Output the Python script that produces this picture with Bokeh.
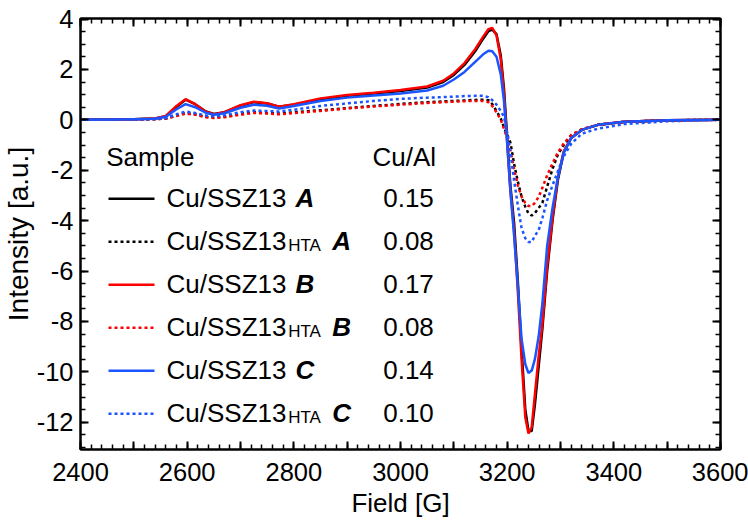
from bokeh.plotting import figure
from bokeh.models import Range1d, LinearAxis, FixedTicker, CustomJSTickFormatter, Title
from bokeh.core.properties import value
from bokeh.embed import file_html
from bokeh.resources import INLINE

# ---------------- data ----------------
field = [2400, 2500, 2540, 2560, 2580, 2597, 2615, 2635, 2650, 2670,
         2700, 2725, 2750, 2772, 2800, 2850, 2900, 2950, 3000, 3050,
         3080, 3100, 3120, 3140, 3155, 3165, 3172, 3180, 3188, 3194,
         3200, 3206, 3213, 3220, 3227, 3234, 3240, 3246, 3252, 3259,
         3266, 3275, 3285, 3295, 3306, 3320, 3340, 3370, 3420, 3500, 3600]

ssz13_A = [0, 0.02, 0.05, 0.14, 0.52, 0.8, 0.62, 0.33, 0.23, 0.3,
           0.56, 0.7, 0.65, 0.52, 0.6, 0.82, 0.95, 1.04, 1.14, 1.28,
           1.5, 1.78, 2.18, 2.72, 3.22, 3.52, 3.58, 3.4, 2.55, 1.25,
           -0.7, -2.6, -4.1, -6.4, -9.1, -11.5, -12.35, -12.35, -11.3, -9.8,
           -8.3, -6.0, -4.0, -2.4, -1.3, -0.72, -0.4, -0.2, -0.08, -0.02, 0]

ssz13_hta_A = [0, 0.01, 0.02, 0.05, 0.17, 0.27, 0.22, 0.12, 0.1, 0.13,
               0.24, 0.3, 0.27, 0.25, 0.3, 0.38, 0.46, 0.55, 0.63, 0.7,
               0.73, 0.75, 0.77, 0.79, 0.8, 0.78, 0.62, 0.35, 0.05, -0.3,
               -0.6, -0.9, -1.75, -2.45, -3.05, -3.45, -3.72, -3.8, -3.7, -3.5,
               -3.3, -2.65, -1.95, -1.38, -1.0, -0.65, -0.38, -0.2, -0.08, -0.02, 0]

ssz13_B = [0, 0.02, 0.05, 0.15, 0.55, 0.82, 0.62, 0.32, 0.22, 0.3,
           0.58, 0.72, 0.66, 0.52, 0.62, 0.85, 0.98, 1.07, 1.18, 1.32,
           1.55, 1.84, 2.25, 2.8, 3.3, 3.6, 3.65, 3.35, 2.4, 1.05,
           -0.9, -2.8, -4.4, -6.8, -9.5, -11.8, -12.45, -12.2, -10.9, -9.4,
           -8.1, -5.8, -3.9, -2.3, -1.25, -0.72, -0.4, -0.2, -0.08, -0.02, 0]

ssz13_hta_B = [0, 0.01, 0.02, 0.05, 0.15, 0.25, 0.2, 0.1, 0.07, 0.1,
               0.2, 0.27, 0.25, 0.22, 0.27, 0.35, 0.45, 0.53, 0.6, 0.67,
               0.7, 0.72, 0.74, 0.75, 0.75, 0.7, 0.55, 0.3, 0.0, -0.35,
               -0.75, -1.2, -1.95, -2.6, -3.05, -3.3, -3.42, -3.42, -3.3, -3.06,
               -2.7, -2.2, -1.73, -1.3, -0.94, -0.6, -0.37, -0.2, -0.08, -0.02, 0]

ssz13_C = [0, 0.02, 0.04, 0.12, 0.42, 0.62, 0.5, 0.28, 0.2, 0.26,
           0.48, 0.6, 0.56, 0.45, 0.55, 0.75, 0.88, 0.96, 1.04, 1.16,
           1.35, 1.6, 1.9, 2.3, 2.6, 2.74, 2.72, 2.5, 1.8, 0.75,
           -0.9, -2.8, -4.6, -6.6, -8.7, -9.7, -10.05, -9.95, -9.5, -8.6,
           -7.3, -5.0, -3.5, -2.3, -1.3, -0.72, -0.4, -0.2, -0.08, -0.02, 0]

ssz13_hta_C = [0, 0.01, 0.03, 0.07, 0.22, 0.33, 0.27, 0.17, 0.14, 0.18,
               0.3, 0.37, 0.35, 0.33, 0.4, 0.55, 0.65, 0.75, 0.83, 0.88,
               0.9, 0.92, 0.94, 0.95, 0.95, 0.9, 0.78, 0.6, 0.35, 0.12,
               -0.5, -1.3, -2.4, -3.4, -4.3, -4.7, -4.85, -4.85, -4.6, -4.38,
               -3.9, -3.2, -2.6, -2.05, -1.45, -0.95, -0.55, -0.35, -0.17, -0.06, 0]

series = [ssz13_A, ssz13_hta_A, ssz13_B, ssz13_hta_B, ssz13_C, ssz13_hta_C]
sample_names = ["Cu/SSZ13", "Cu/SSZ13", "Cu/SSZ13", "Cu/SSZ13", "Cu/SSZ13", "Cu/SSZ13"]
is_hta = [False, True, False, True, False, True]
letters = ["A", "A", "B", "B", "C", "C"]
cu_al = ["0.15", "0.08", "0.17", "0.08", "0.14", "0.10"]
colors = ["black", "black", "#ff0000", "#ff0000", "#1a55ff", "#1a55ff"]
dashes = ["solid", "3 3", "solid", "3 3", "solid", "3 3"]

x_major = list(range(2400, 3601, 100))
x_minor = list(range(2400, 3601, 20))
y_major = list(range(-12, 5, 2))
y_minor = [v / 2 for v in range(-26, 9)]

# ---------------- layout ----------------
FONT = "Liberation Sans"
W, H = 748, 522
ML, MR, MT = 80, 28, 18
FW = W - ML - MR          # 640
FH = 431
MB = H - MT - FH
X0, X1 = 2400, 3600
Y1 = 4.02
Y0 = Y1 - FH / 25.2
TEXT_DY = -10             # baseline correction for text glyphs

def fx(px):  # page pixel -> data x
    return X0 + (px - ML) / FW * (X1 - X0)

def fy(py):  # page pixel -> data y
    return Y1 - (py - MT) / FH * (Y1 - Y0)

p = figure(width=W, height=H, x_range=Range1d(X0, X1), y_range=Range1d(Y0, Y1),
           output_backend="svg", toolbar_location=None,
           min_border_left=ML, min_border_right=MR, min_border_top=MT, min_border_bottom=MB,
           x_axis_label="Field [G]")
p.xgrid.visible = False
p.ygrid.visible = False
p.outline_line_color = "black"
p.outline_line_width = 2
p.background_fill_color = "white"
p.border_fill_color = "white"

fmt_x = CustomJSTickFormatter(code="return (tick % 200 == 0) ? tick.toFixed(0) : '';")
fmt_y = CustomJSTickFormatter(code="return tick.toFixed(0);")

def style_axis(ax, show_labels):
    ax.axis_line_width = 2
    ax.axis_line_color = "black"
    ax.major_tick_line_width = 2
    ax.minor_tick_line_width = 1.5
    ax.major_tick_in = 8
    ax.major_tick_out = 0
    ax.minor_tick_in = 5
    ax.minor_tick_out = 0
    ax.major_label_text_font = FONT
    ax.axis_label_text_font = FONT
    ax.axis_label_text_font_style = "normal"
    ax.axis_label_text_font_size = "26px"
    ax.axis_label_text_color = "black"
    if show_labels:
        ax.major_label_text_font_size = "25.5px"
        ax.major_label_text_color = "black"
    else:
        ax.major_label_text_font_size = "0px"
        ax.major_label_text_color = None
        ax.major_label_standoff = 0

xt = FixedTicker(ticks=x_major, minor_ticks=x_minor)
yt = FixedTicker(ticks=y_major, minor_ticks=y_minor)

p.xaxis.ticker = xt
p.xaxis.formatter = fmt_x
p.yaxis.ticker = yt
p.yaxis.formatter = fmt_y
for ax in p.xaxis:
    style_axis(ax, True)
    ax.major_label_standoff = 13
    ax.axis_label_standoff = 4
for ax in p.yaxis:
    style_axis(ax, True)
    ax.major_label_standoff = 7

top = LinearAxis(ticker=xt, formatter=fmt_x)
style_axis(top, False)
p.add_layout(top, "above")
right = LinearAxis(ticker=yt, formatter=fmt_y)
style_axis(right, False)
p.add_layout(right, "right")

# y axis title: a side title, shifted up like the original
ytitle = Title(text="Intensity [a.u.]", align="center", offset=42, standoff=0,
               text_font=FONT, text_font_size="28px", text_font_style="normal",
               text_color="black")
p.add_layout(ytitle, "left")

# ---------------- curves ----------------
for vals, col, dash in zip(series, colors, dashes):
    p.line(field, vals, line_color=col, line_width=2.5, line_dash=dash, line_cap="butt")

# ---------------- legend (table) ----------------
tf = value(FONT)
hy = 166.7 + TEXT_DY
p.text(x=[fx(105.7), fx(372)], y=[fy(hy)] * 2, text=["Sample", "Cu/Al"],
       text_font=tf, text_font_size="26px", text_baseline="alphabetic", text_color="black")

row0, drow = 198.3, 43.0
for i in range(len(series)):
    ly = row0 + i * drow
    base = ly + 9 + TEXT_DY
    p.line([fx(108), fx(154)], [fy(ly), fy(ly)], line_color=colors[i], line_width=2.5,
           line_dash=dashes[i], line_cap="butt")
    p.text(x=[fx(166)], y=[fy(base)], text=[sample_names[i]], text_font=tf,
           text_font_size="26px", text_baseline="alphabetic", text_color="black")
    if is_hta[i]:
        p.text(x=[fx(287.7)], y=[fy(base + 5)], text=["HTA"], text_font=tf,
               text_font_size="17px", text_baseline="alphabetic", text_color="black")
        lx = 331.7
    else:
        lx = 295
    p.text(x=[fx(lx)], y=[fy(base)], text=[letters[i]], text_font=tf, text_font_size="26px",
           text_font_style="bold italic", text_baseline="alphabetic", text_color="black")
    p.text(x=[fx(382.7)], y=[fy(base)], text=[cu_al[i]], text_font=tf, text_font_size="26px",
           text_baseline="alphabetic", text_color="black")

open("out.html", "w").write(file_html(p, INLINE))
